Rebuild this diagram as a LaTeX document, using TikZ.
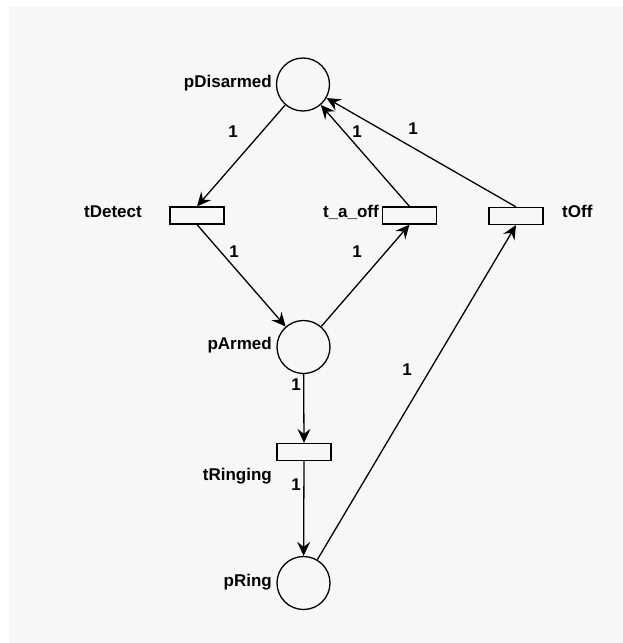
\documentclass[tikz,border=0pt]{standalone}
\usepackage{fontspec}
\setmainfont{Liberation Sans}
\usetikzlibrary{arrows.meta}
\definecolor{panel}{HTML}{F7F7F7}
\begin{document}
\begin{tikzpicture}[x=1pt,y=-1pt,
  place/.style={circle,draw,line width=1.3pt,minimum size=53pt,inner sep=0pt,fill=panel},
  trans/.style={rectangle,draw,line width=1.2pt,minimum width=54pt,minimum height=17pt,inner sep=0pt,fill=panel},
  lbl/.style={font=\fontsize{17}{20}\selectfont\bfseries,inner sep=0pt},
  weight/.style={lbl},
  arc/.style={line width=1.3pt,-{Stealth[length=14pt,width=13pt,inset=5pt]}},
]
% page and panel
\useasboundingbox (0,0) rectangle (623,643);
\fill[white] (0,0) rectangle (623,643);
\fill[panel] (9,7) rectangle (623,643);

% places
\node[place] (pD) at (303,84.5) {};
\node[place] (pA) at (303.5,347) {};
\node[place] (pR) at (303.5,583) {};

% transitions
\node[trans] (tD) at (197,215.5) {};
\node[trans] (tA) at (409.5,215.5) {};
\node[trans] (tO) at (516,216) {};
\node[trans] (tR) at (304,452) {};

% names
\node[lbl,anchor=base east] (npD) at (272,87) {pDisarmed};
\node[lbl,anchor=base east] (ntD) at (142,217) {tDetect};
\node[lbl,anchor=base east] (ntA) at (379,217) {t\_a\_off};
\node[lbl,anchor=base west] (ntO) at (562,217) {tOff};
\node[lbl,anchor=base east] (npA) at (272,349) {pArmed};
\node[lbl,anchor=base east] (ntR) at (272,480) {tRinging};
\node[lbl,anchor=base east] (npR) at (272,586) {pRing};

% arcs
\draw[arc] (pD) -- (tD.north);
\draw[arc] (tA.north) -- (pD);
\draw[arc] (tO.north) -- (pD);
\draw[arc] (tD.south) -- (pA);
\draw[arc] (pA) -- (tA.south);
\draw[arc] (pA) -- (tR.north);
\draw[arc] (tR.south) -- (pR);
\draw[arc] (pR) -- (tO.south);

% arc weights
\node[weight] (w1) at (233,132) {1};
\node[weight] (w2) at (357,132) {1};
\node[weight] (w3) at (413,129) {1};
\node[weight] (w4) at (234,252) {1};
\node[weight] (w5) at (357,252) {1};
\node[weight] (w6) at (296,385) {1};
\node[weight] (w7) at (296,485) {1};
\node[weight] (w8) at (407,370) {1};
\end{tikzpicture}
\end{document}
